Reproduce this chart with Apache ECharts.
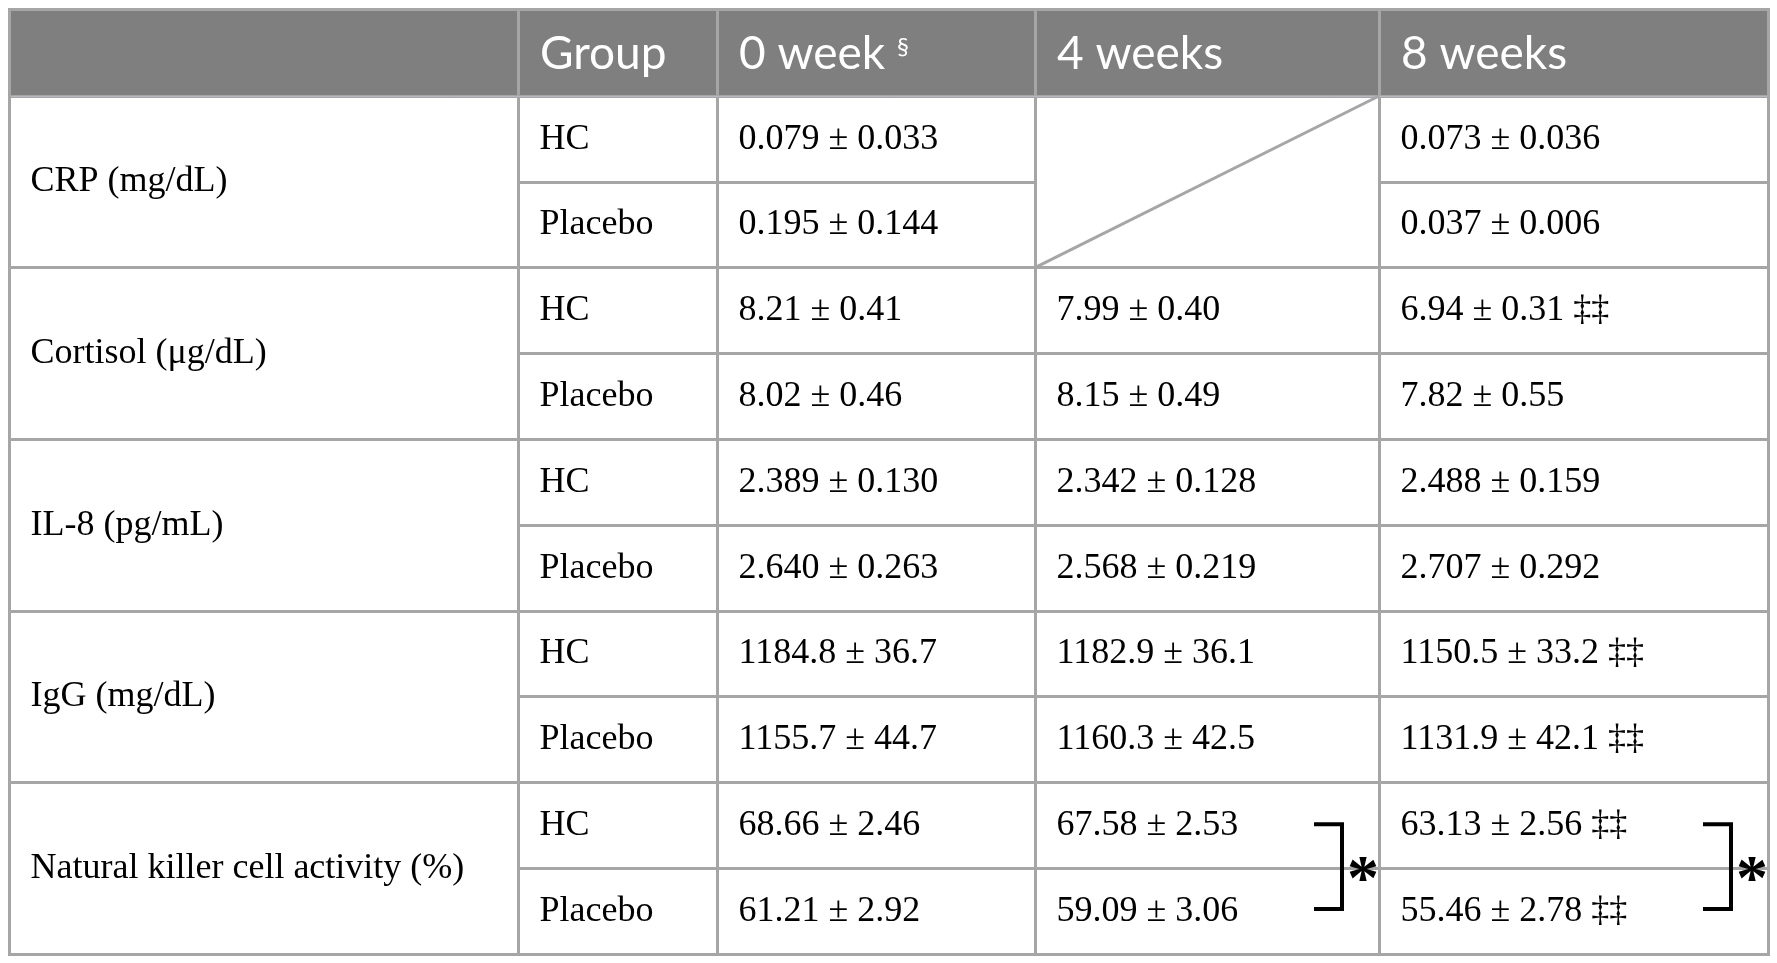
<!DOCTYPE html>
<html>
<head>
<meta charset="utf-8">
<script src="https://cdn.jsdelivr.net/npm/echarts@6.0.0/dist/echarts.min.js"></script>
<style>
html, body { margin: 0; padding: 0; background: #fff; }
#main { width: 1777px; height: 963px; }
</style>
</head>
<body>
<div id="main"></div>
<script>
var columns = [' ', 'Group', '0 week {sup|§}', '4 weeks', '8 weeks'];
var measures = ['CRP (mg/dL)', 'Cortisol (μg/dL)', 'IL-8 (pg/mL)', 'IgG (mg/dL)', 'Natural killer cell activity (%)'];
var groups = ['HC', 'Placebo'];
var decimals = [3, 2, 3, 1, 2];

// [mean, sd] per measure
var hcWeek0 = [[0.079, 0.033], [8.21, 0.41], [2.389, 0.130], [1184.8, 36.7], [68.66, 2.46]];
var pbWeek0 = [[0.195, 0.144], [8.02, 0.46], [2.640, 0.263], [1155.7, 44.7], [61.21, 2.92]];
var hcWeek4 = [null, [7.99, 0.40], [2.342, 0.128], [1182.9, 36.1], [67.58, 2.53]];
var pbWeek4 = [null, [8.15, 0.49], [2.568, 0.219], [1160.3, 42.5], [59.09, 3.06]];
var hcWeek8 = [[0.073, 0.036], [6.94, 0.31], [2.488, 0.159], [1150.5, 33.2], [63.13, 2.56]];
var pbWeek8 = [[0.037, 0.006], [7.82, 0.55], [2.707, 0.292], [1131.9, 42.1], [55.46, 2.78]];
// marks vs 0 week, 8 weeks column
var hcMark8 = ['', '‡‡', '', '‡‡', '‡‡'];
var pbMark8 = ['', '', '', '‡‡', '‡‡'];
// HC vs placebo difference (*)
var sigMeasure = 4;
var sigWeeks = ['4 weeks', '8 weeks'];

var rowKeys = [];
measures.forEach(function (m, i) {
    groups.forEach(function (g) { rowKeys.push(i + '-' + g); });
});

function fmt(v, d, mark) {
    if (!v) return '';
    return v[0].toFixed(d) + ' ± ' + v[1].toFixed(d) + (mark ? ' ' + mark : '');
}

var bodyData = [];
measures.forEach(function (m, i) {
    var r0 = rowKeys[2 * i], r1 = rowKeys[2 * i + 1];
    var d = decimals[i];
    bodyData.push({ coord: [columns[0], [r0, r1]], mergeCells: true, value: m });
    bodyData.push({ coord: [columns[1], r0], value: groups[0] });
    bodyData.push({ coord: [columns[1], r1], value: groups[1] });
    bodyData.push({ coord: [columns[2], r0], value: fmt(hcWeek0[i], d) });
    bodyData.push({ coord: [columns[2], r1], value: fmt(pbWeek0[i], d) });
    if (hcWeek4[i]) {
        bodyData.push({ coord: [columns[3], r0], value: fmt(hcWeek4[i], d) });
        bodyData.push({ coord: [columns[3], r1], value: fmt(pbWeek4[i], d) });
    } else {
        bodyData.push({ coord: [columns[3], [r0, r1]], mergeCells: true, value: '' });
    }
    bodyData.push({ coord: [columns[4], r0], value: fmt(hcWeek8[i], d, hcMark8[i]) });
    bodyData.push({ coord: [columns[4], r1], value: fmt(pbWeek8[i], d, pbMark8[i]) });
});

var colSizes = [509, 199, 318, 344, 389];
var lineColor = '#a6a6a6';

var chart = echarts.init(document.getElementById('main'));

function cellRect(api, x, y) {
    var l = api.layout([x, y]);
    return l.rect || l;
}

var option = {
    animation: false,
    backgroundColor: '#fff',
    matrix: {
        left: 9,
        top: 9,
        right: 9,
        bottom: 9,
        x: {
            levelSize: 87,
            data: columns.map(function (c, i) { return { value: c, size: colSizes[i] }; }),
            itemStyle: { color: '#7f7f7f', borderColor: lineColor, borderWidth: 3 },
            label: { show: false, color: 'rgba(0,0,0,0)' }
        },
        y: {
            show: false,
            data: rowKeys
        },
        body: {
            data: bodyData,
            itemStyle: { color: '#fff', borderColor: lineColor, borderWidth: 3 },
            label: {
                color: '#000',
                fontFamily: 'Liberation Serif',
                fontSize: 36,
                position: 'insideLeft',
                align: 'left',
                verticalAlign: 'middle',
                distance: 18,
                overflow: 'none',
                width: 1000
            }
        },
        backgroundStyle: { color: '#fff', borderColor: lineColor, borderWidth: 3 }
    },
    series: [{
        type: 'custom',
        coordinateSystem: 'matrix',
        data: [[columns[3], rowKeys[0]]],
        renderItem: function (params, api) {
            var children = [];
            // header titles, centred in the header band
            var tableTop = params.coordSys.y;
            columns.forEach(function (c) {
                var r = cellRect(api, c, rowKeys[0]);
                children.push({
                    type: 'text',
                    x: r.x + 22,
                    y: (tableTop + r.y) / 2 + 2,
                    style: {
                        text: c,
                        fill: '#fff',
                        font: '46px Lato',
                        align: 'left',
                        verticalAlign: 'middle',
                        rich: {
                            sup: { fill: '#fff', fontFamily: 'Lato', fontSize: 24, verticalAlign: 'top', padding: [4, 0, 0, 0] }
                        }
                    }
                });
            });
            // diagonal in the empty CRP 4-week cell
            var a = cellRect(api, columns[3], rowKeys[0]);
            var b = cellRect(api, columns[3], rowKeys[1]);
            children.push({
                type: 'line',
                shape: { x1: a.x, y1: b.y + b.height, x2: a.x + a.width, y2: a.y },
                style: { stroke: lineColor, lineWidth: 3 }
            });
            // significance brackets
            sigWeeks.forEach(function (w) {
                var top = cellRect(api, w, rowKeys[2 * sigMeasure]);
                var bot = cellRect(api, w, rowKeys[2 * sigMeasure + 1]);
                var xr = top.x + top.width - 37;
                var yt = top.y + top.height / 2 - 1;
                var yb = bot.y + bot.height / 2 - 2;
                children.push({
                    type: 'polyline',
                    shape: { points: [[xr - 28, yt], [xr, yt], [xr, yb], [xr - 28, yb]] },
                    style: { stroke: '#000', lineWidth: 4, fill: null }
                });
                children.push({
                    type: 'text',
                    x: xr + 21,
                    y: bot.y + 14,
                    style: {
                        text: '*',
                        fill: '#000',
                        font: 'bold 64px "Liberation Serif"',
                        align: 'center',
                        verticalAlign: 'middle'
                    }
                });
            });
            return { type: 'group', children: children };
        }
    }]
};

chart.setOption(option);
</script>
</body>
</html>
